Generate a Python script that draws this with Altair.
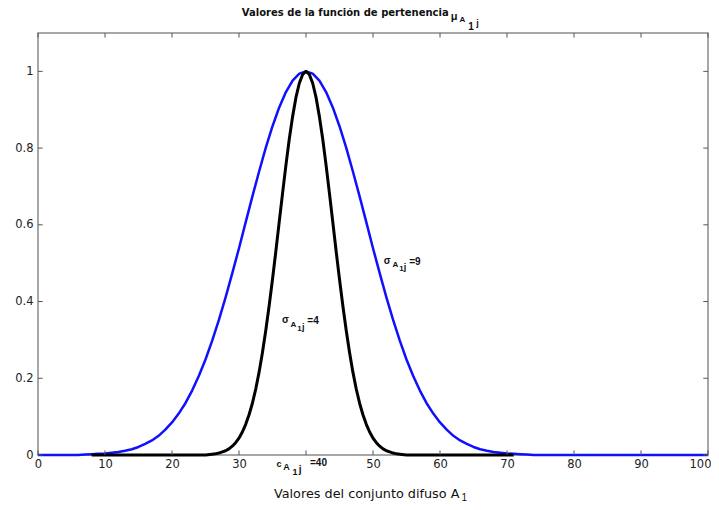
import altair as alt
import pandas as pd

# --- data ---
blue_half = [0.001, 0.002, 0.003, 0.004, 0.006, 0.008, 0.011, 0.015, 0.021,
             0.029, 0.038, 0.050, 0.066, 0.085, 0.108, 0.135, 0.168, 0.206,
             0.249, 0.298, 0.352, 0.411, 0.474, 0.539, 0.607, 0.674, 0.739,
             0.801, 0.857, 0.906, 0.946, 0.976, 0.994]          # x = 7 .. 39
blue_x = list(range(0, 101))
blue_y = [0] * 7 + blue_half + [1.0] + blue_half[::-1] + [0] * (101 - 7 - 33 - 1 - 33)

black_half = [0.002, 0.003, 0.005, 0.008, 0.011, 0.016, 0.023, 0.032, 0.044,
              0.060, 0.080, 0.105, 0.135, 0.172, 0.216, 0.267, 0.325, 0.389,
              0.458, 0.531, 0.607, 0.682, 0.755, 0.823, 0.882, 0.932, 0.969,
              0.992]                                             # x = 26 .. 39.5
black_x = ([float(v) for v in range(8, 26)]
           + [26 + 0.5 * i for i in range(57)]
           + [float(v) for v in range(55, 72)])
black_y = [0] * 18 + black_half + [1.0] + black_half[::-1] + [0] * 17

x_ticks = [0, 10, 20, 30, 40, 50, 60, 70, 80, 90, 100]
y_ticks = [0, 0.2, 0.4, 0.6, 0.8, 1]

FONT = "Liberation Sans"
WIDE = "DejaVu Sans"

xs = alt.Scale(domain=[0, 100], nice=False, zero=False)
ys = alt.Scale(domain=[0, 1.1], nice=False, zero=False)

blue_df = pd.DataFrame({"x": blue_x, "y": blue_y})
black_df = pd.DataFrame({"x": black_x, "y": black_y})

x_axis = alt.Axis(values=x_ticks, labelExpr="datum.value == 40 ? '' : datum.label",
                  ticks=False, domain=False, grid=False, title=None,
                  labelFont=WIDE, labelFontSize=11.5, labelColor="#222",
                  labelPadding=3, labelFlush=False, labelOverlap=False,
                  labelAlign={"condition": {"test": "datum.value == 100", "value": "right"},
                              "value": "center"},
                  labelOffset={"condition": {"test": "datum.value == 100", "value": 3},
                               "value": 0})
y_axis = alt.Axis(values=y_ticks, format="~g", ticks=False, domain=False, grid=False,
                  title=None, labelFont=WIDE, labelFontSize=11.5, labelColor="#222",
                  labelPadding=5, labelFlush=False, labelOverlap=False)

blue = alt.Chart(blue_df).mark_line(color="#1010ff", strokeWidth=2.5,
                                    strokeJoin="round").encode(
    x=alt.X("x:Q", scale=xs, axis=x_axis),
    y=alt.Y("y:Q", scale=ys, axis=y_axis),
)
black = alt.Chart(black_df).mark_line(color="#000000", strokeWidth=3,
                                      strokeJoin="round").encode(
    x=alt.X("x:Q", scale=xs),
    y=alt.Y("y:Q", scale=ys),
)

# inward tick marks on all four sides
tick_rows = []
for v in x_ticks:
    tick_rows.append({"x": v, "x2": v, "y": 0, "y2": 0.012})
    tick_rows.append({"x": v, "x2": v, "y": 1.088, "y2": 1.1})
for v in y_ticks:
    tick_rows.append({"x": 0, "x2": 0.7, "y": v, "y2": v})
    tick_rows.append({"x": 99.3, "x2": 100, "y": v, "y2": v})
ticks = alt.Chart(pd.DataFrame(tick_rows)).mark_rule(color="#555", strokeWidth=1).encode(
    x=alt.X("x:Q", scale=xs), x2="x2:Q",
    y=alt.Y("y:Q", scale=ys), y2="y2:Q",
)

# text pieces: (text, x, y, size, weight, align, font)
texts = [
    ("Valores de la función de pertenencia", 61.3, 1.152, 10, "bold", "right", WIDE),
    ("μ", 61.6, 1.142, 11, "bold", "left", FONT),
    ("A", 62.9, 1.133, 8, "bold", "left", FONT),
    ("1", 64.2, 1.115, 10, "bold", "left", FONT),
    ("j", 65.4, 1.125, 9, "bold", "left", FONT),
    ("Valores del conjunto difuso A", 62.9, -0.1016, 12.8, "normal", "right", WIDE),
    ("1", 63.2, -0.112, 10, "normal", "left", FONT),
    # sigma = 9
    ("σ", 51.6, 0.505, 10, "bold", "left", FONT),
    ("A", 52.9, 0.494, 8, "bold", "left", FONT),
    ("1", 53.9, 0.484, 8, "bold", "left", FONT),
    ("j", 54.6, 0.490, 9, "bold", "left", FONT),
    ("=9", 55.4, 0.503, 10, "bold", "left", FONT),
    # sigma = 4
    ("σ", 36.4, 0.352, 10, "bold", "left", FONT),
    ("A", 37.7, 0.339, 8, "bold", "left", FONT),
    ("1", 38.7, 0.328, 8, "bold", "left", FONT),
    ("j", 39.4, 0.333, 9, "bold", "left", FONT),
    ("=4", 40.2, 0.349, 10, "bold", "left", FONT),
    # c = 40
    ("c", 35.6, -0.023, 9, "bold", "left", FONT),
    ("A", 36.6, -0.031, 9, "bold", "left", FONT),
    ("1", 38.0, -0.044, 9, "bold", "left", FONT),
    ("j", 38.9, -0.039, 10, "bold", "left", FONT),
    ("=40", 40.6, -0.021, 10, "bold", "left", FONT),
]
tdf = pd.DataFrame(texts, columns=["text", "x", "y", "size", "weight", "align", "font"])

text_layers = []
for (w, a, f, fs), g in tdf.groupby(["weight", "align", "font", "size"]):
    text_layers.append(
        alt.Chart(g).mark_text(font=f, fontWeight=w, align=a, baseline="middle",
                               fontSize=float(fs), color="#111").encode(
            x=alt.X("x:Q", scale=xs),
            y=alt.Y("y:Q", scale=ys),
            text="text:N",
        )
    )

chart = alt.layer(blue, black, ticks, *text_layers).properties(
    width=670, height=422,
    autosize=alt.AutoSizeParams(type="none"),
    padding={"left": 30, "top": 25, "right": 3, "bottom": 47},
    background="white",
).configure_view(stroke="#8a8a8a", strokeWidth=1.5)

chart.save("out.html", embed_options={"renderer": "svg", "actions": False})
